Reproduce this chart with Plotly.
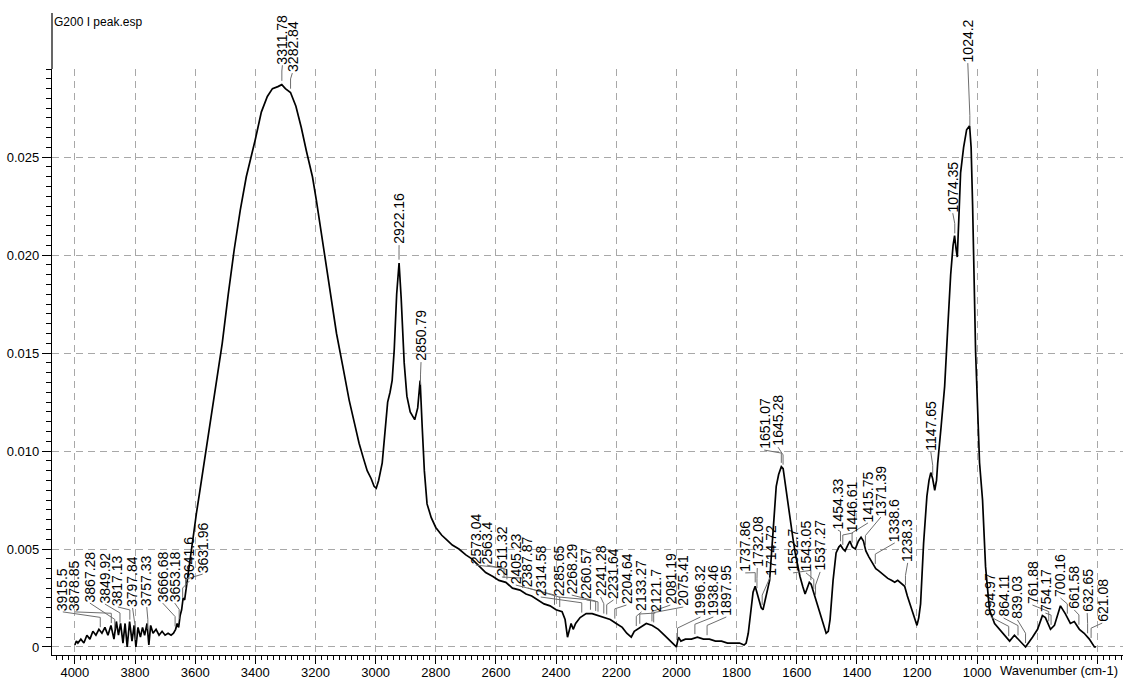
import numpy as np
import plotly.graph_objects as go

# ---------------- data ----------------
wavenumber = [4000, 3995, 3990, 3980, 3970, 3960, 3950, 3940, 3930, 3920, 3910, 3900, 3890, 3880,
              3870, 3862, 3855, 3848, 3840, 3833, 3826, 3818, 3810, 3803, 3797, 3790, 3782, 3775,
              3768, 3760, 3754, 3748, 3740, 3730, 3720, 3710, 3700, 3690, 3680, 3672, 3665, 3660,
              3655, 3650, 3645, 3640, 3635, 3629, 3618, 3607, 3596, 3585, 3574, 3563, 3546, 3529,
              3510, 3490, 3470, 3450, 3430, 3400, 3380, 3360, 3343, 3325, 3312, 3300, 3283, 3265,
              3247, 3230, 3210, 3197, 3180, 3164, 3145, 3130, 3110, 3088, 3070, 3055, 3040, 3028,
              3015, 3005, 2998, 2990, 2978, 2968, 2960, 2952, 2945, 2938, 2930, 2922, 2915, 2905,
              2896, 2885, 2870, 2860, 2852, 2845, 2838, 2829, 2815, 2800, 2780, 2766, 2745, 2723,
              2700, 2680, 2660, 2634, 2610, 2590, 2567, 2545, 2520, 2500, 2481, 2460, 2440, 2420,
              2400, 2380, 2370, 2362, 2356, 2350, 2343, 2335, 2320, 2300, 2280, 2260, 2240, 2220,
              2200, 2180, 2165, 2150, 2140, 2120, 2100, 2080, 2060, 2040, 2020, 2005, 2000, 1993,
              1985, 1970, 1950, 1930, 1910, 1890, 1870, 1850, 1830, 1810, 1790, 1775, 1768, 1761,
              1751, 1745, 1738, 1728, 1718, 1712, 1701, 1690, 1678, 1668, 1660, 1651, 1645, 1639,
              1630, 1622, 1613, 1605, 1597, 1589, 1580, 1572, 1565, 1558, 1552, 1546, 1538, 1529,
              1520, 1512, 1502, 1495, 1489, 1479, 1469, 1460, 1454, 1446, 1439, 1430, 1423, 1415,
              1405, 1395, 1386, 1378, 1370, 1360, 1353, 1345, 1337, 1328, 1320, 1310, 1297, 1285,
              1274, 1264, 1250, 1241, 1232, 1224, 1216, 1208, 1200, 1194, 1188, 1178, 1167, 1160,
              1154, 1148, 1141, 1135, 1131, 1120, 1108, 1098, 1088, 1080, 1075, 1070, 1066, 1060,
              1055, 1045, 1035, 1025, 1020, 1015, 1005, 992, 982, 972, 959, 942, 915, 892, 876, 859,
              839, 816, 799, 783, 773, 756, 743, 723, 707, 690, 677, 660, 644, 627, 610, 605]
absorbance = [0.0001, 0.0003, 0.0002, 0.0004, 0.0002, 0.0006, 0.0004, 0.0008, 0.0006, 0.0009, 0.0007,
              0.0010, 0.0006, 0.0011, 0.0004, 0.0013, 0.0006, 0.0012, 0.0002, 0.0012, 0.0000, 0.0013,
              0.0003, 0.0011, 0.0000, 0.0010, 0.0005, 0.0010, 0.0006, 0.0012, 0.0001, 0.0011, 0.0007,
              0.0009, 0.0006, 0.0008, 0.0006, 0.0007, 0.0006, 0.0007, 0.0009, 0.0012, 0.0010, 0.0016,
              0.0019, 0.0025, 0.0024, 0.0031, 0.0043, 0.0056, 0.0068, 0.0079, 0.0090, 0.0102, 0.0120,
              0.0136, 0.0155, 0.0180, 0.0203, 0.0223, 0.0240, 0.0259, 0.0273, 0.0281, 0.0285, 0.0286,
              0.0287, 0.0285, 0.0283, 0.0276, 0.0265, 0.0253, 0.0240, 0.0228, 0.0211, 0.0194, 0.0174,
              0.0160, 0.0144, 0.0126, 0.0114, 0.0104, 0.0096, 0.0090, 0.0086, 0.0082, 0.0081, 0.0085,
              0.0094, 0.0110, 0.0125, 0.0130, 0.0136, 0.0152, 0.0180, 0.0196, 0.0178, 0.0145, 0.0128,
              0.0120, 0.0116, 0.0122, 0.0136, 0.0112, 0.0090, 0.0073, 0.0066, 0.0061, 0.0057, 0.0055,
              0.0052, 0.0050, 0.0047, 0.0045, 0.0042, 0.0038, 0.0036, 0.0034, 0.0033, 0.0030, 0.0029,
              0.0027, 0.0026, 0.0024, 0.0022, 0.0021, 0.0019, 0.0018, 0.0014, 0.0005, 0.0008, 0.0012,
              0.0009, 0.0012, 0.0015, 0.0017, 0.0017, 0.0016, 0.0015, 0.0014, 0.0012, 0.0010, 0.0007,
              0.0005, 0.0008, 0.0010, 0.0012, 0.0011, 0.0009, 0.0006, 0.0003, 0.0001, 0.0000, 0.0005,
              0.0003, 0.0004, 0.0004, 0.0005, 0.0004, 0.0004, 0.0003, 0.0003, 0.0002, 0.0002, 0.0002,
              0.0001, 0.0002, 0.0007, 0.0020, 0.0028, 0.0031, 0.0026, 0.0020, 0.0019, 0.0027, 0.0034,
              0.0060, 0.0082, 0.0088, 0.0092, 0.0091, 0.0084, 0.0075, 0.0065, 0.0056, 0.0048, 0.0041,
              0.0036, 0.0031, 0.0027, 0.0030, 0.0033, 0.0032, 0.0029, 0.0025, 0.0020, 0.0016, 0.0012,
              0.0007, 0.0008, 0.0014, 0.0034, 0.0048, 0.0051, 0.0052, 0.0050, 0.0049, 0.0052, 0.0054,
              0.0051, 0.0050, 0.0054, 0.0056, 0.0054, 0.0049, 0.0046, 0.0044, 0.0042, 0.0040, 0.0039,
              0.0038, 0.0037, 0.0035, 0.0034, 0.0033, 0.0034, 0.0032, 0.0031, 0.0026, 0.0022, 0.0018,
              0.0014, 0.0011, 0.0015, 0.0022, 0.0053, 0.0077, 0.0085, 0.0089, 0.0086, 0.0080, 0.0085,
              0.0094, 0.0112, 0.0133, 0.0162, 0.0190, 0.0205, 0.0210, 0.0203, 0.0199, 0.0222, 0.0242,
              0.0255, 0.0264, 0.0266, 0.0255, 0.0225, 0.0150, 0.0094, 0.0075, 0.0041, 0.0019, 0.0012,
              0.0007, 0.0003, 0.0006, 0.0003, 0.0000, 0.0005, 0.0009, 0.0016, 0.0015, 0.0009, 0.0011,
              0.0021, 0.0017, 0.0012, 0.0013, 0.0009, 0.0007, 0.0004, 0.0000, 0.0000]

peak_labels = ["3915.5", "3878.85", "3867.28", "3849.92", "3817.13", "3797.84", "3757.33",
               "3666.68", "3653.18", "3641.6", "3631.96", "3311.78", "3282.84", "2922.16",
               "2850.79", "2573.04", "2563.4", "2511.32", "2405.23", "2387.87", "2314.58",
               "2285.65", "2268.29", "2260.57", "2241.28", "2231.64", "2204.64", "2133.27",
               "2121.7", "2081.19", "2075.41", "1996.32", "1938.46", "1897.95", "1737.86",
               "1732.08", "1714.72", "1651.07", "1645.28", "1552.7", "1543.05", "1537.27",
               "1454.33", "1446.61", "1415.75", "1371.39", "1338.6", "1238.3", "1147.65",
               "1074.35", "1024.2", "894.97", "864.11", "839.03", "761.88", "754.17", "700.16",
               "661.58", "632.65", "621.08"]

x_ticks = [4000, 3800, 3600, 3400, 3200, 3000, 2800, 2600, 2400, 2200, 2000, 1800, 1600, 1400,
           1200, 1000, 800, 600]
x_tick_text = ["4000", "3800", "3600", "3400", "3200", "3000", "2800", "2600", "2400", "2200",
               "2000", "1800", "1600", "1400", "1200", "1000", "", ""]
y_ticks = [0, 0.005, 0.010, 0.015, 0.020, 0.025]
y_tick_text = ["0", "0.005", "0.010", "0.015", "0.020", "0.025"]

# ---------------- label placement (layout) ----------------
label_x = [4040, 4000, 3950, 3900, 3857, 3808, 3761, 3708, 3668, 3619, 3575, 3310, 3277, 2922,
           2849, 2667, 2630, 2580, 2534, 2494, 2451, 2391, 2348, 2299, 2252, 2209, 2166, 2116,
           2070, 2020, 1977, 1920, 1877, 1834, 1771, 1731, 1688, 1708, 1662, 1612, 1569, 1522,
           1463, 1413, 1363, 1320, 1274, 1231, 1154, 1081, 1031, 955, 912, 866, 816, 773, 723,
           677, 634, 584]
label_bottom = [0.00179, 0.00179, 0.00224, 0.00219, 0.00204, 0.00199, 0.00204, 0.00224, 0.00224,
                0.00337, 0.00372, 0.02969, 0.02929, 0.02051, 0.01454, 0.00418, 0.00418, 0.00357,
                0.00316, 0.00301, 0.00255, 0.00255, 0.00265, 0.00240, 0.00255, 0.00240, 0.00214,
                0.00179, 0.00173, 0.00214, 0.00204, 0.00153, 0.00153, 0.00153, 0.00378, 0.00403,
                0.00357, 0.01005, 0.01020, 0.00378, 0.00378, 0.00383, 0.00597, 0.00582, 0.00633,
                0.00663, 0.00531, 0.00429, 0.00995, 0.02214, 0.02980, 0.00153, 0.00148, 0.00138,
                0.00214, 0.00173, 0.00250, 0.00189, 0.00173, 0.00122]

X_LEFT, X_RIGHT = 4076, 515
Y_BOT, Y_TOP = -0.00041, 0.0295
W, H = 1123, 684
M_L, M_R, M_T, M_B = 52, 0, 69, 29
plot_h = H - M_T - M_B


def xp(x):
    return (X_LEFT - x) / (X_LEFT - X_RIGHT)


def yp(y):
    return (y - Y_BOT) / (Y_TOP - Y_BOT)


wn_arr = np.array(wavenumber, dtype=float)
ab_arr = np.array(absorbance, dtype=float)

FONT = "Liberation Sans, Arial, sans-serif"

fig = go.Figure()
fig.add_trace(go.Scatter(x=wavenumber, y=absorbance, mode="lines",
                         line=dict(color="black", width=1.7), hoverinfo="skip",
                         showlegend=False))

shapes = []
annotations = []
for txt, lx, lb in zip(peak_labels, label_x, label_bottom):
    p = float(txt)
    cy = float(np.interp(p, wn_arr[::-1], ab_arr[::-1]))
    ya = cy + 0.0002
    yb = ya + 0.0005
    lc = "#6e6e6e"
    shapes.append(dict(type="line", xref="paper", yref="paper",
                       x0=xp(p), x1=xp(p), y0=yp(ya), y1=yp(yb),
                       line=dict(color=lc, width=1)))
    shapes.append(dict(type="line", xref="paper", yref="paper",
                       x0=xp(p), x1=xp(lx), y0=yp(yb), y1=yp(lb),
                       line=dict(color=lc, width=1)))
    annotations.append(dict(x=xp(lx), y=yp(lb), xref="paper", yref="paper", text=txt,
                            textangle=-90, xanchor="center", yanchor="bottom",
                            showarrow=False, borderpad=0,
                            font=dict(family=FONT, size=14, color="black")))

# extended y-axis spine up to title
shapes.append(dict(type="line", xref="paper", yref="paper", x0=0, x1=0,
                   y0=1, y1=1 + (M_T - 13) / plot_h, line=dict(color="black", width=1.2)))

annotations.append(dict(x=0, y=1 + (M_T - 22) / plot_h, xref="paper", yref="paper",
                        text="G200 I peak.esp", xanchor="left", yanchor="middle",
                        showarrow=False, font=dict(family=FONT, size=12, color="black")))
annotations.append(dict(x=(1120 - M_L) / (W - M_L - M_R), y=-(670 - (H - M_B)) / plot_h,
                        xref="paper", yref="paper", text="Wavenumber (cm-1)",
                        xanchor="right", yanchor="middle", showarrow=False,
                        font=dict(family=FONT, size=13, color="black")))

grid_col = "#a8a8a8"
fig.update_layout(
    template="none",
    width=W, height=H,
    margin=dict(l=M_L, r=M_R, t=M_T, b=M_B, autoexpand=False),
    paper_bgcolor="white", plot_bgcolor="white",
    shapes=shapes, annotations=annotations,
    xaxis=dict(range=[X_LEFT, X_RIGHT], tickmode="array", tickvals=x_ticks,
               ticktext=x_tick_text, showgrid=True, gridcolor=grid_col, gridwidth=1,
               griddash="7px,5px", zeroline=False, showline=True, linecolor="black",
               linewidth=1.2, ticks="outside", ticklen=8, tickcolor="black",
               automargin=False, ticklabelstandoff=-3,
               tickfont=dict(family=FONT, size=13, color="black"),
               minor=dict(tickmode="linear", tick0=0, dtick=20, ticks="outside",
                          ticklen=4, tickcolor="black", showgrid=False)),
    yaxis=dict(range=[Y_BOT, Y_TOP], tickmode="array", tickvals=y_ticks,
               ticktext=y_tick_text, showgrid=True, gridcolor=grid_col, gridwidth=1,
               griddash="7px,5px", zeroline=False, showline=True, linecolor="black",
               linewidth=1.2, ticks="outside", ticklen=9, tickcolor="black",
               automargin=False,
               tickfont=dict(family=FONT, size=13, color="black"),
               minor=dict(tickmode="linear", tick0=0, dtick=0.0005, ticks="outside",
                          ticklen=5, tickcolor="black", showgrid=False)),
)

fig.write_html("out.html", config={"displayModeBar": False},
               post_script="document.body.style.margin='0px';document.body.style.overflow='hidden';")
